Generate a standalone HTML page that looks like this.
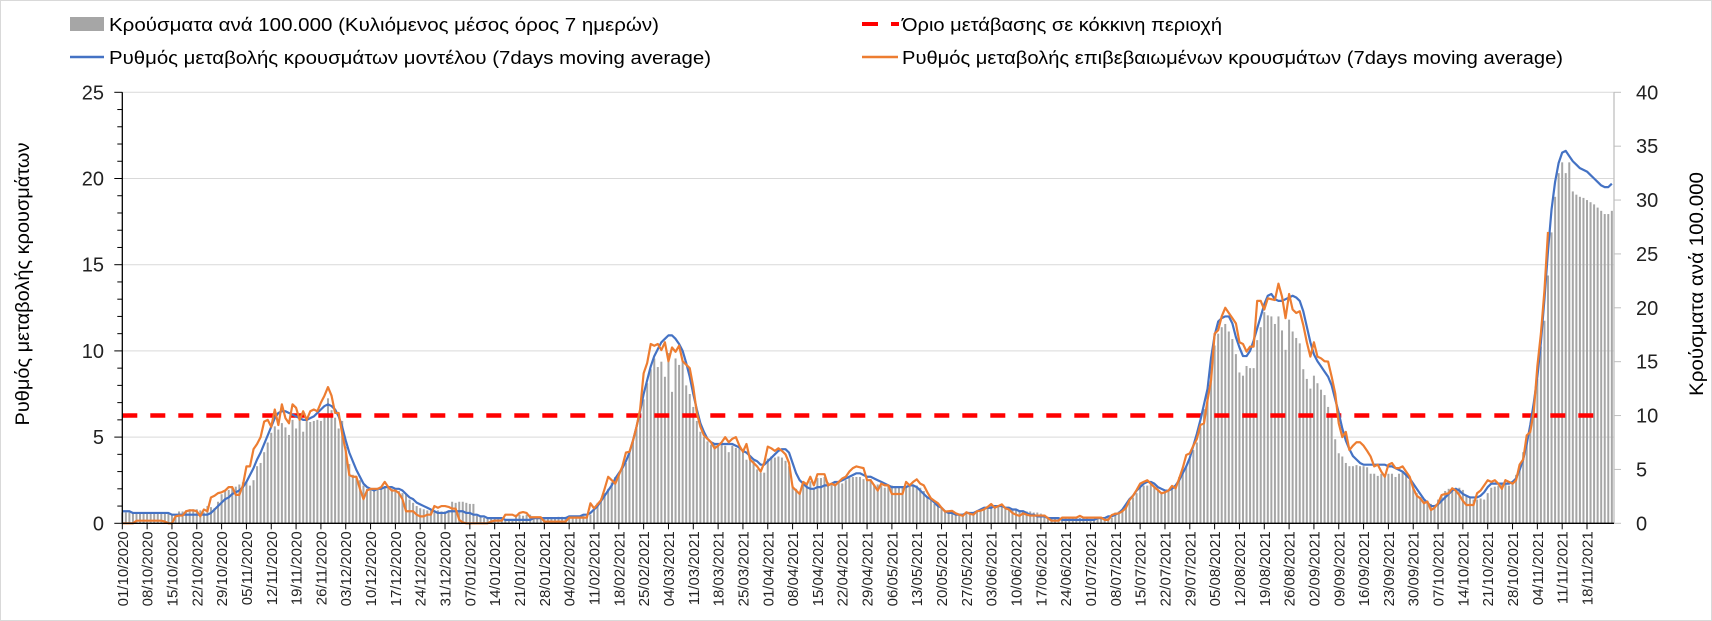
<!DOCTYPE html>
<html><head><meta charset="utf-8"><style>
html,body{margin:0;padding:0;background:#fff;}
svg{display:block;font-family:"Liberation Sans",Arial,sans-serif;}
</style></head><body>
<svg id="chart" width="1712" height="621" viewBox="0 0 1712 621" xmlns="http://www.w3.org/2000/svg">
<rect x="0.5" y="0.5" width="1711" height="620" fill="#fff" stroke="#d9d9d9"/>
<g id="grid"></g>
<g id="bars"></g>
<g id="lines"></g>
<g id="axes"></g>
<g>
  <g>
    <rect x="70" y="17" width="34" height="14" fill="#a6a6a6"/>
    <text x="109" y="31" font-size="18" textLength="550" lengthAdjust="spacingAndGlyphs">Κρούσματα ανά 100.000 (Κυλιόμενος μέσος όρος 7 ημερών)</text>
  </g>
  <g>
    <line x1="70" y1="57" x2="104" y2="57" stroke="#4472c4" stroke-width="2.5"/>
    <text x="109" y="64" font-size="18" textLength="602" lengthAdjust="spacingAndGlyphs">Ρυθμός μεταβολής κρουσμάτων μοντέλου (7days moving average)</text>
  </g>
  <g>
    <line x1="862" y1="24" x2="878" y2="24" stroke="#ff0000" stroke-width="4"/>
    <line x1="891" y1="24" x2="899" y2="24" stroke="#ff0000" stroke-width="4"/>
    <text x="902" y="31" font-size="18" textLength="320" lengthAdjust="spacingAndGlyphs">Όριο μετάβασης σε κόκκινη περιοχή</text>
  </g>
  <g>
    <line x1="862" y1="57" x2="898" y2="57" stroke="#ed7d31" stroke-width="2.5"/>
    <text x="902" y="64" font-size="18" textLength="661" lengthAdjust="spacingAndGlyphs">Ρυθμός μεταβολής επιβεβαιωμένων κρουσμάτων (7days moving average)</text>
  </g>
</g>
<text transform="translate(29,284) rotate(-90)" text-anchor="middle" font-size="19" textLength="283" lengthAdjust="spacingAndGlyphs">Ρυθμός μεταβολής κρουσμάτων</text>
<text transform="translate(1703,284) rotate(-90)" text-anchor="middle" font-size="19" textLength="224" lengthAdjust="spacingAndGlyphs">Κρούσματα ανά 100.000</text>
</svg>
<script>
// ---- data ----
const startDate = [2020, 10, 1];
const leftTicks = [0, 5, 10, 15, 20, 25];
const rightTicks = [0, 5, 10, 15, 20, 25, 30, 35, 40];
const threshold = [6.25];
const modelRate = [
0.7,0.7,0.7,0.6,0.6,0.6,0.6,0.6,0.6,0.6,
0.6,0.6,0.6,0.6,0.5,0.5,0.5,0.5,0.5,0.5,
0.5,0.5,0.5,0.5,0.5,0.6,0.8,1.0,1.2,1.4,
1.5,1.7,1.8,1.9,2.1,2.4,2.8,3.2,3.7,4.1,
4.6,5.1,5.6,6.1,6.4,6.5,6.5,6.4,6.3,6.2,
6.1,6.0,6.0,6.1,6.2,6.4,6.6,6.8,6.9,6.8,
6.6,6.2,5.6,4.8,4.1,3.6,3.1,2.7,2.3,2.1,
2.0,1.9,2.0,2.0,2.1,2.1,2.1,2.0,2.0,1.9,
1.7,1.5,1.4,1.2,1.1,1.0,0.9,0.8,0.7,0.6,
0.6,0.6,0.7,0.7,0.7,0.7,0.7,0.6,0.6,0.5,
0.5,0.4,0.4,0.3,0.3,0.3,0.3,0.3,0.2,0.2,
0.2,0.2,0.2,0.2,0.2,0.2,0.3,0.3,0.3,0.3,
0.3,0.3,0.3,0.3,0.3,0.3,0.4,0.4,0.4,0.4,
0.5,0.5,0.6,0.8,1.0,1.3,1.6,1.9,2.2,2.6,
2.9,3.2,3.6,4.1,4.8,5.6,6.5,7.5,8.3,9.1,
9.7,10.1,10.5,10.7,10.9,10.9,10.7,10.4,10.0,9.3,
8.5,7.5,6.6,5.8,5.3,4.9,4.7,4.6,4.6,4.6,
4.6,4.6,4.6,4.5,4.4,4.2,4.1,3.9,3.7,3.6,
3.4,3.4,3.6,3.8,4.0,4.2,4.3,4.3,4.1,3.5,
2.9,2.5,2.3,2.1,2.0,2.0,2.1,2.1,2.2,2.2,
2.3,2.4,2.4,2.5,2.6,2.7,2.8,2.9,2.9,2.8,
2.7,2.7,2.6,2.5,2.4,2.3,2.2,2.1,2.1,2.1,
2.1,2.1,2.2,2.2,2.1,1.9,1.7,1.5,1.4,1.2,
1.0,0.9,0.7,0.6,0.6,0.5,0.5,0.5,0.6,0.6,
0.6,0.7,0.8,0.9,0.9,0.9,1.0,1.0,1.0,0.9,
0.9,0.8,0.8,0.7,0.7,0.6,0.5,0.5,0.4,0.4,
0.4,0.3,0.3,0.3,0.3,0.2,0.2,0.2,0.2,0.2,
0.2,0.2,0.2,0.2,0.2,0.3,0.3,0.3,0.4,0.4,
0.5,0.6,0.8,1.1,1.4,1.6,1.9,2.1,2.3,2.4,
2.4,2.3,2.1,2.0,1.9,1.9,2.0,2.2,2.5,2.9,
3.3,3.8,4.5,5.2,6.0,6.9,7.8,9.6,10.9,11.7,
11.9,12.0,12.0,11.6,10.8,10.2,9.7,9.7,10.0,10.6,
11.3,12.0,12.7,13.2,13.3,13.0,12.9,12.9,13.0,13.1,
13.2,13.1,12.9,12.3,11.4,10.5,9.8,9.4,9.1,8.8,
8.5,8.0,7.2,6.4,5.5,4.8,4.3,3.9,3.7,3.5,
3.4,3.4,3.4,3.4,3.4,3.4,3.4,3.3,3.3,3.2,
3.1,3.0,2.8,2.6,2.3,2.0,1.7,1.4,1.2,1.0,
1.0,1.1,1.3,1.5,1.7,1.9,2.0,1.9,1.7,1.6,
1.5,1.5,1.5,1.6,1.8,2.1,2.3,2.3,2.3,2.3,
2.3,2.3,2.4,2.6,3.1,3.7,4.6,5.7,7.0,8.5,
10.5,13.0,15.8,18.2,19.8,20.9,21.5,21.6,21.3,21.0,
20.8,20.6,20.5,20.4,20.2,20.0,19.8,19.6,19.5,19.5,19.7];
const confirmedRate = [
0,0,0,0,0.15,0.15,0.15,0.15,0.15,0.15,
0.15,0.15,0.1,0,0,0.4,0.45,0.45,0.7,0.75,
0.75,0.7,0.4,0.8,0.7,1.5,1.6,1.75,1.8,1.9,
2.1,2.1,1.65,1.65,2.2,3.3,3.3,4.3,4.6,5.0,
5.9,6.0,5.6,6.6,5.7,6.9,6.1,5.8,6.9,6.7,
6.0,6.5,6.0,6.5,6.6,6.5,7.0,7.4,7.9,7.4,
6.4,6.4,5.2,4.2,2.8,2.7,2.7,2.0,1.4,1.9,
2.0,2.0,2.0,2.1,2.4,2.1,1.9,1.9,1.75,1.4,
0.7,0.7,0.7,0.5,0.4,0.4,0.5,0.5,1.0,0.9,
1.0,1.0,0.95,0.85,0.85,0.2,0.05,0,0,0,
0,0,0,0,0.1,0.15,0.15,0.15,0.5,0.5,
0.5,0.4,0.6,0.65,0.6,0.35,0.35,0.35,0.35,0.1,
0.1,0.1,0.1,0.1,0.1,0.1,0.33,0.33,0.33,0.33,
0.33,0.33,1.16,0.87,1.1,1.35,2.0,2.7,2.5,2.3,
2.8,3.3,4.1,4.15,4.8,5.6,6.6,8.7,9.3,10.4,
10.3,10.4,10.05,10.5,9.4,10.2,9.95,10.3,9.4,9.2,
9.0,7.9,6.4,5.6,5.1,4.9,4.7,4.35,4.5,4.7,
5.0,4.7,4.9,5.0,4.5,4.15,4.6,3.7,3.5,3.3,
3.0,3.5,4.45,4.35,4.2,4.35,4.2,4.0,3.5,2.1,
1.9,1.7,2.4,2.25,2.7,2.2,2.85,2.85,2.85,2.2,
2.3,2.2,2.4,2.6,2.7,3.0,3.2,3.3,3.25,3.2,
2.5,2.5,2.2,1.9,2.3,2.2,2.2,1.7,1.7,1.7,
1.7,2.4,2.2,2.4,2.55,2.3,2.2,1.8,1.45,1.3,
1.16,0.9,0.68,0.7,0.72,0.58,0.5,0.43,0.64,0.55,
0.5,0.7,0.73,0.81,0.95,1.12,0.9,1.0,1.1,0.87,
0.8,0.6,0.5,0.43,0.58,0.5,0.45,0.45,0.45,0.45,
0.45,0.3,0.15,0.15,0.15,0.33,0.33,0.33,0.33,0.33,
0.43,0.33,0.33,0.33,0.33,0.33,0.33,0.2,0.2,0.48,
0.55,0.58,0.7,0.9,1.35,1.6,1.93,2.3,2.4,2.5,
2.3,2.1,1.93,1.74,1.8,1.9,2.17,2.03,2.6,3.2,
3.96,4.06,4.5,4.9,5.7,5.8,7.15,8.3,11.0,11.2,
12.0,12.5,12.2,11.9,11.6,10.5,10.4,9.96,10.25,10.25,
12.9,12.9,12.4,13.05,13.0,12.95,13.9,13.15,11.9,13.3,
12.4,12.2,12.3,11.5,10.5,9.67,10.5,9.67,9.57,9.4,
9.38,8.5,7.54,5.8,5.0,5.3,4.25,4.5,4.7,4.7,
4.5,4.2,3.87,3.3,3.4,3.0,2.7,3.4,3.5,3.2,
3.2,3.3,3.0,2.7,2.03,1.6,1.45,1.16,1.26,0.77,
0.9,1.16,1.64,1.7,1.74,2.03,1.9,1.64,1.3,1.06,
1.06,1.06,1.74,1.9,2.2,2.5,2.4,2.5,2.3,2.0,
2.5,2.4,2.3,2.5,3.4,3.7,5.1,5.3,6.5,9.1,
11.0,13.5,16.9];
const casesPer100k = [
1.0,1.0,1.0,1.0,0.9,0.9,0.9,0.9,0.9,0.9,
0.9,0.9,0.9,0.9,0.8,0.8,1.1,1.1,1.2,1.3,
1.3,1.3,1.2,1.0,1.6,1.5,1.4,2.0,2.7,3.0,
3.1,3.3,3.4,3.6,3.8,3.9,3.5,4.0,5.3,5.6,
6.6,7.5,8.4,9.0,8.7,9.3,8.9,8.2,9.6,8.8,
9.6,8.5,9.7,9.4,9.5,9.6,9.5,10.2,11.6,10.5,
9.8,8.8,9.5,7.1,5.5,4.5,4.4,4.0,3.5,3.2,
3.2,3.2,3.1,3.3,3.4,3.4,3.2,3.0,3.0,2.8,
2.7,2.2,1.9,1.6,1.4,1.3,1.2,1.2,1.1,1.2,
1.1,1.1,1.1,2.0,1.9,2.0,2.0,1.9,1.8,1.8,
0.7,0.6,0.5,0.5,0.5,0.4,0.4,0.4,0.4,0.4,
0.4,0.8,0.8,0.7,0.8,0.8,0.5,0.5,0.5,0.5,
0.5,0.5,0.5,0.6,0.6,0.6,0.6,0.6,0.6,0.6,
0.7,0.7,0.8,1.4,1.9,2.3,2.8,3.2,3.8,4.3,
4.6,5.0,5.6,6.6,7.6,8.8,10.1,11.5,13.0,14.3,
15.3,14.5,15.0,13.6,15.8,12.2,15.3,14.7,15.0,12.8,
12.0,10.8,9.5,8.5,8.0,7.6,7.3,7.3,7.2,7.3,
7.2,6.6,7.2,7.0,7.1,6.9,5.9,6.3,5.8,5.0,
4.7,4.7,6.0,6.2,6.1,6.2,6.1,5.8,5.3,3.5,
3.2,2.9,3.6,3.6,3.9,3.3,4.2,4.2,4.3,3.8,
3.6,3.7,3.8,3.7,4.0,4.2,4.3,4.3,4.3,4.1,
4.0,4.1,3.6,3.6,3.5,3.3,3.6,3.5,3.4,3.3,
3.3,3.4,3.5,3.5,3.5,3.3,3.0,2.5,2.2,1.8,
1.6,1.4,1.2,1.1,1.0,1.0,0.9,0.9,1.0,1.0,
1.0,1.2,1.3,1.4,1.6,1.7,1.7,1.6,1.6,1.5,
1.4,1.3,1.3,1.2,1.2,1.1,1.1,1.0,1.0,0.9,
0.8,0.6,0.5,0.5,0.5,0.5,0.5,0.5,0.5,0.5,
0.5,0.5,0.5,0.4,0.4,0.4,0.4,0.4,0.5,0.5,
1.0,1.1,1.3,1.6,2.0,2.4,2.8,3.3,3.5,3.5,
3.6,3.4,3.0,2.9,3.0,3.1,3.1,3.5,4.3,4.9,
5.3,6.0,6.8,7.5,8.9,10.6,12.4,14.5,16.5,17.6,
18.2,18.5,17.8,17.1,15.7,14.0,13.7,14.6,14.4,14.4,
17.0,18.2,19.6,19.3,19.2,18.5,19.2,17.9,16.1,18.9,
17.8,17.2,16.7,14.3,13.4,12.5,13.7,13.0,12.4,11.9,
10.8,9.8,7.8,6.5,6.2,5.6,5.3,5.3,5.4,5.3,
5.3,5.2,4.6,4.6,4.4,4.6,4.5,4.6,4.6,4.3,
4.6,4.8,4.6,4.0,3.4,2.8,2.4,2.1,2.0,1.8,
1.7,2.2,2.5,3.0,3.2,3.2,3.3,3.3,3.1,2.6,
2.5,2.2,2.2,2.3,2.2,2.8,3.3,3.4,3.5,3.6,
3.7,3.5,3.8,4.5,5.3,6.6,7.8,9.1,10.9,13.4,
16.4,18.8,23.0,27.0,30.3,32.5,33.5,32.5,33.5,30.8,
30.5,30.3,30.2,30.0,29.8,29.6,29.3,29.0,28.7,28.7,29.0];

// ---- scales ----
const NS = "http://www.w3.org/2000/svg";
const X0 = 122.3, DX = 3.5465, Y0 = 523.3, YTOP = 92.3, XR = 1614;
const xDay = d => X0 + d * DX;
const yLeft = v => Y0 - v * (Y0 - YTOP) / 25;
const yRight = v => Y0 - v * (Y0 - YTOP) / 40;
function mk(tag, attrs, parent) {
  const e = document.createElementNS(NS, tag);
  for (const k in attrs) e.setAttribute(k, attrs[k]);
  parent.appendChild(e);
  return e;
}
const grid = document.getElementById('grid');
const axes = document.getElementById('axes');
const barsG = document.getElementById('bars');
const linesG = document.getElementById('lines');

leftTicks.forEach(v => {
  const g = mk('line', {x1: X0, x2: XR, y1: yLeft(v), y2: yLeft(v), stroke: '#d9d9d9', 'stroke-width': 1}, grid);
  
  
});

// bars
casesPer100k.forEach((v, d) => {
  const r = mk('rect', {x: xDay(d) - 1, y: yRight(v), width: 2, height: Y0 - yRight(v), fill: '#a6a6a6'}, barsG);
  
  
});

// threshold line
const th = mk('line', {x1: X0, x2: xDay(416), y1: yLeft(threshold[0]), y2: yLeft(threshold[0]), stroke: '#ff0000', 'stroke-width': 4.5, 'stroke-dasharray': '15 13'}, linesG);



function linePath(arr) {
  return arr.map((v, d) => (d ? 'L' : 'M') + xDay(d).toFixed(2) + ',' + yLeft(v).toFixed(2)).join('');
}
const pb = mk('path', {d: linePath(modelRate), fill: 'none', stroke: '#4472c4', 'stroke-width': 2.2, 'stroke-linejoin': 'round'}, linesG);


const po = mk('path', {d: linePath(confirmedRate), fill: 'none', stroke: '#ed7d31', 'stroke-width': 2.2, 'stroke-linejoin': 'round'}, linesG);



// left axis
const la = mk('line', {x1: X0, x2: X0, y1: YTOP, y2: Y0, stroke: '#000', 'stroke-width': 1.3}, axes);


for (let v = 0; v <= 25; v++) {
  const major = v % 5 === 0;
  mk('line', {x1: major ? X0 - 8 : X0 - 5, x2: X0, y1: yLeft(v), y2: yLeft(v), stroke: '#000', 'stroke-width': 1}, axes);
}
leftTicks.forEach(v => {
  const t = mk('text', {x: 104, y: yLeft(v) + 7, 'text-anchor': 'end', 'font-size': 20, fill: '#222'}, axes);
  t.textContent = v;
  
  
});
// right axis
const ra = mk('line', {x1: XR, x2: XR, y1: YTOP, y2: Y0, stroke: '#bfbfbf', 'stroke-width': 1.3}, axes);


rightTicks.forEach(v => {
  mk('line', {x1: XR, x2: XR + 7, y1: yRight(v), y2: yRight(v), stroke: '#bfbfbf', 'stroke-width': 1}, axes);
  const t = mk('text', {x: 1636, y: yRight(v) + 7, 'font-size': 20, fill: '#222'}, axes);
  t.textContent = v;
  
  
});
// x axis
const xa = mk('line', {x1: X0, x2: XR, y1: Y0, y2: Y0, stroke: '#000', 'stroke-width': 1.3}, axes);


const base = new Date(Date.UTC(startDate[0], startDate[1] - 1, startDate[2]));
for (let d = 0; d <= 413; d += 7) {
  const x = xDay(d);
  mk('line', {x1: x, x2: x, y1: Y0, y2: Y0 + 6, stroke: '#000', 'stroke-width': 1}, axes);
  const dt = new Date(base.getTime() + d * 86400000);
  const s = String(dt.getUTCDate()).padStart(2, '0') + '/' + String(dt.getUTCMonth() + 1).padStart(2, '0') + '/' + dt.getUTCFullYear();
  const t = mk('text', {transform: 'translate(' + (x + 5.5).toFixed(2) + ',' + (Y0 + 8) + ') rotate(-90)', 'text-anchor': 'end', 'font-size': 15, fill: '#222'}, axes);
  t.textContent = s;
  
  
}
</script>
</body></html>
